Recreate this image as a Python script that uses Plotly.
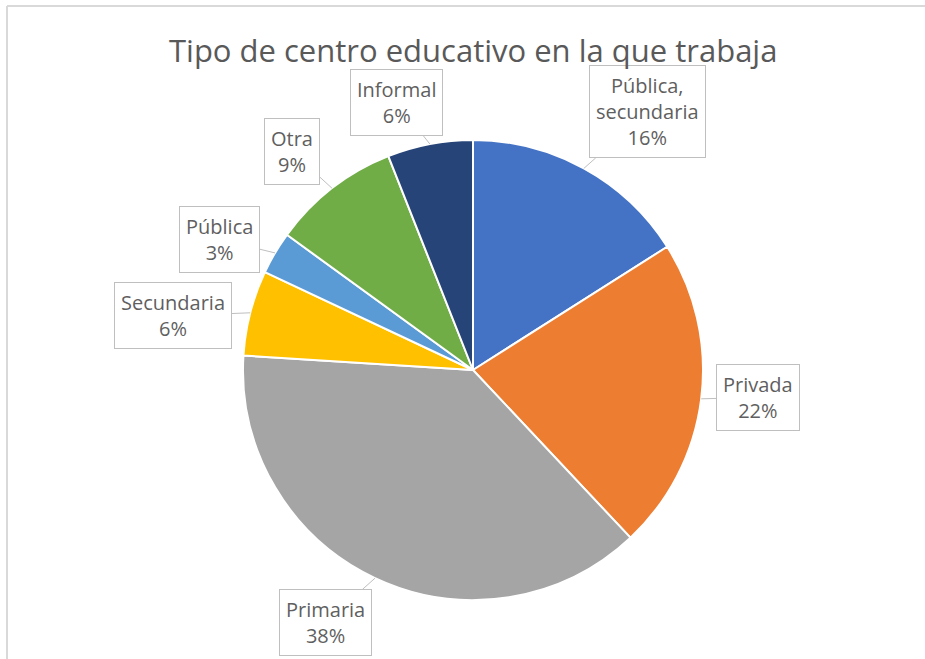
import math
import plotly.graph_objects as go

# ---- data ----
categories = ["Pública, secundaria", "Privada", "Primaria", "Secundaria", "Pública", "Otra", "Informal"]
label_text = ["Pública,<br>secundaria", "Privada", "Primaria", "Secundaria", "Pública", "Otra", "Informal"]
percent = [16, 22, 38, 6, 3, 9, 6]
colors = ["#4472C4", "#ED7D31", "#A5A5A5", "#FFC000", "#5B9BD5", "#70AD47", "#264478"]

# ---- layout constants ----
W, H = 925, 659
CX, CY, R = 473, 370, 230          # pie centre / radius in pixels
LABEL_DIST = 290
nudges = [(35, -4), (-3, -9), (-24, -10), (-19, 18), (-4, 17), (-3, 11), (-22, 17)]

fig = go.Figure(go.Pie(
    labels=categories,
    values=percent,
    sort=False,
    direction="clockwise",
    rotation=0,
    marker=dict(colors=colors, line=dict(color="white", width=2)),
    textinfo="none",
    hoverinfo="label+percent",
    showlegend=False,
    domain=dict(x=[(CX - R) / W, (CX + R) / W], y=[1 - (CY + R) / H, 1 - (CY - R) / H]),
))

total = sum(percent)
cum = 0
annotations = []
for i, v in enumerate(percent):
    mid = (cum + v / 2) / total * 2 * math.pi
    cum += v
    tipx = CX + R * math.sin(mid)
    tipy = CY - R * math.cos(mid)
    bx = CX + LABEL_DIST * math.sin(mid) + nudges[i][0]
    by = CY - LABEL_DIST * math.cos(mid) + nudges[i][1]
    pct = round(v / total * 100)
    annotations.append(dict(
        x=tipx / W, y=1 - tipy / H, xref="paper", yref="paper",
        ax=bx - tipx, ay=by - tipy, axref="pixel", ayref="pixel",
        text=f"{label_text[i]}<br>{pct}%",
        showarrow=True, arrowhead=0, arrowwidth=1, arrowcolor="#BFBFBF", standoff=0,
        font=dict(family="Open Sans", size=20, color="#5F5F5F"),
        bgcolor="white", bordercolor="#BFBFBF", borderwidth=1, borderpad=6,
        align="center",
    ))

annotations.append(dict(
    x=CX / W, y=1 - 50 / H, xref="paper", yref="paper", showarrow=False,
    text="Tipo de centro educativo en la que trabaja",
    font=dict(family="Open Sans", size=31, color="#595959"),
    xanchor="center", yanchor="middle",
))

fig.update_layout(
    width=W, height=H,
    margin=dict(l=0, r=0, t=0, b=0),
    paper_bgcolor="white", plot_bgcolor="white",
    annotations=annotations,
    shapes=[
        dict(type="line", xref="paper", yref="paper", x0=7 / W, x1=1, y0=1 - 6 / H, y1=1 - 6 / H,
             line=dict(color="#D9D9D9", width=2)),
        dict(type="line", xref="paper", yref="paper", x0=7 / W, x1=7 / W, y0=0, y1=1 - 6 / H,
             line=dict(color="#D9D9D9", width=2)),
    ],
)

fig.write_html("out.html", config={"displayModeBar": False},
               post_script="document.body.style.margin='0px';")
